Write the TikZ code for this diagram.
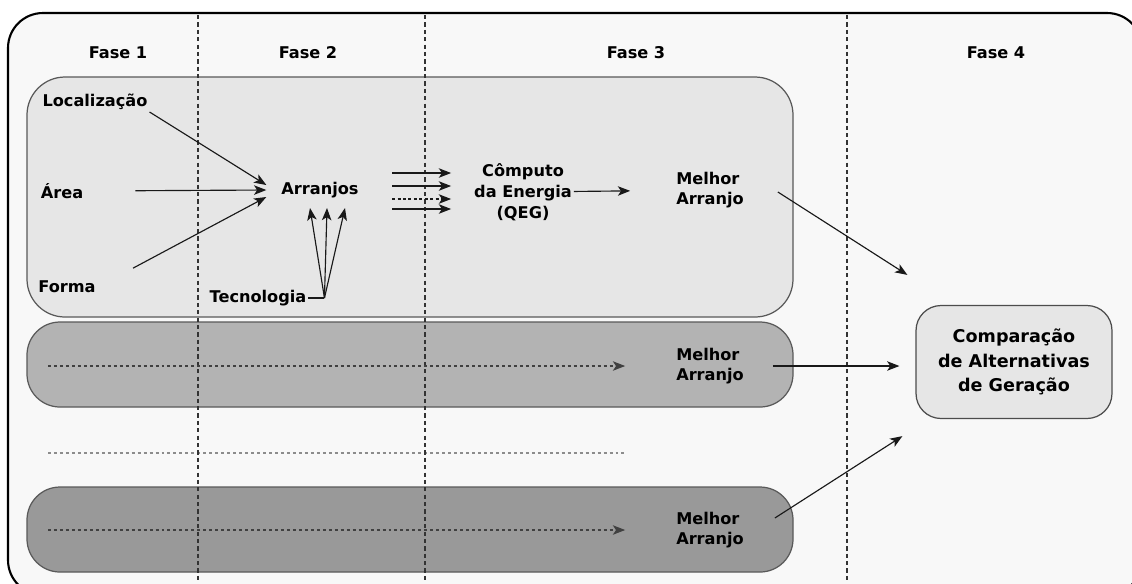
\documentclass[tikz,border=0pt]{standalone}
\usepackage{fontspec}
\setmainfont{DejaVu Sans}
\usetikzlibrary{positioning,arrows.meta}
\definecolor{framegray}{HTML}{F8F8F8}
\definecolor{lanea}{HTML}{E6E6E6}
\definecolor{laneb}{HTML}{B3B3B3}
\definecolor{lanec}{HTML}{999999}

\begin{document}
\begin{tikzpicture}[x=0.02cm, y=-0.02cm,
                    >={Stealth[length=7pt,width=5.4pt,inset=1.8pt]},
                    every node/.style = {font=\bfseries\fontsize{9.2}{11.8}\selectfont,
                      inner sep=1pt},
                    lane/.style = {draw=black!65, line width=0.7pt},
                    sep/.style = {draw=black!80, line width=0.75pt,
                      dash pattern=on 2.4pt off 1.8pt},
                    flow/.style = {->, black!90, line width=0.65pt},
                    dflow/.style = {flow, dash pattern=on 1.7pt off 1.4pt},
                    dotflow/.style = {->, black!75, line width=0.65pt,
                      dash pattern=on 1.7pt off 1.7pt},
                    compbox/.style = {draw=black!70, fill=lanea, line width=0.7pt,
                      rounded corners=0.5cm, align=center,
                      minimum width=3.92cm, minimum height=2.26cm,
                      font=\bfseries\fontsize{10}{13.9}\selectfont}]
  \clip (0,0) rectangle (1132,583);
  % frame and lanes
  \draw[line width=1.2pt, fill=framegray, rounded corners=0.7cm]
    (8,13) rectangle (1142,595);
  \draw[lane, fill=lanea, rounded corners=0.76cm] (27,77) rectangle (793,317);
  \draw[lane, fill=laneb, rounded corners=0.66cm] (27,322) rectangle (793,407);
  \draw[lane, fill=lanec, rounded corners=0.66cm] (27,487) rectangle (793,572);
  \draw[black!45, line width=0.65pt, dash pattern=on 1.7pt off 1.7pt]
    (48,453) -- (625,453);
  % phases
  \foreach \x in {198,425,847}
    \draw[sep] (\x,15) -- (\x,583);
  \foreach \x/\n in {118/1,308/2,636/3,996/4}
    \node (fase\n) at (\x,53) {Fase \n};

  % first lane
  \node (loc) at (95,102) {Localização};
  \node (area) at (62,191) {Área};
  \node (forma) at (67,287) {Forma};
  \node (arr) at (320,190) {Arranjos};
  \node (tec) at (258,298) {Tecnologia};
  \node[align=center] (qeg) at (523,192) {Cômputo\\da Energia\\(QEG)};
  \node[align=left] (mel1) at (710,190) {Melhor\\Arranjo};

  % other lanes
  \node[align=left] (mel2) at (710,366) {Melhor\\Arranjo};
  \node[align=left] (mel3) at (710,530) {Melhor\\Arranjo};
  \coordinate (start2) at (48,366);
  \coordinate (start3) at (48,530);

  \node[compbox] (comp) at (1014,362) {Comparação\\de Alternativas\\de Geração};

  % connectors
  \draw[flow] (loc.south east) -- ([shift={(-13,-5)}]arr.west);
  \draw[flow, shorten <=1cm] (area.east) -- ([xshift=-0.26cm]arr.west);
  \draw[flow, shorten <=0.8cm] (forma.east) -- ([shift={(-13,7)}]arr.west);
  \coordinate[right=0.32cm of tec.east] (fork);
  \draw[black!90, line width=0.65pt] (tec.east) -- (fork);
  \foreach \dx in {-10,7,25}
    \draw[flow] (fork) -- ([shift={(\dx,8)}]arr.south);
  \foreach \dy/\s in {-19/flow,-6/flow,7/dflow,17/flow}
    \draw[\s] ([shift={(-80,\dy)}]qeg.west) -- ([shift={(-21,\dy)}]qeg.west);
  \draw[flow, shorten >=0.88cm] (qeg) -- (mel1);
  \draw[flow] ([shift={(32,2)}]mel1.east) -- ([shift={(-8,-30)}]comp.north west);
  \draw[flow, shorten <=0.54cm, shorten >=0.32cm] (mel2.east) -- (mel2.east -| comp.west);
  \draw[flow] ([shift={(29,-12)}]mel3.east) -- ([shift={(-13,17)}]comp.south west);
  \draw[dotflow] (start2) -- ([xshift=-0.98cm]mel2.west);
  \draw[dotflow] (start3) -- ([xshift=-0.98cm]mel3.west);
\end{tikzpicture}
\end{document}
